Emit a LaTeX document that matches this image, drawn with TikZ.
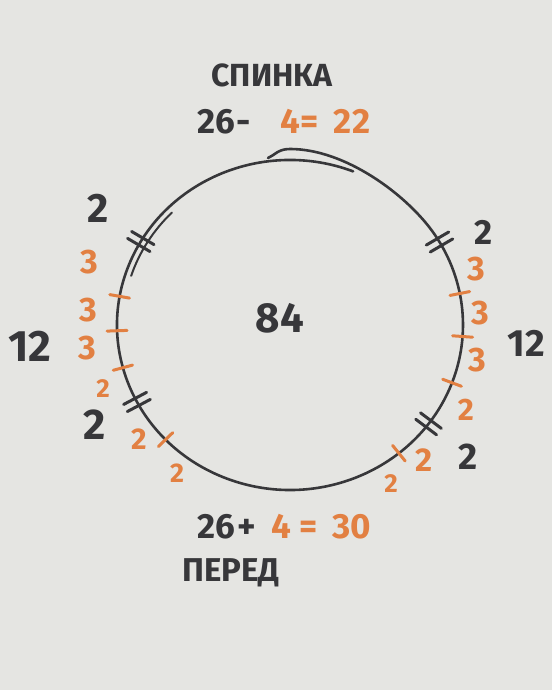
\documentclass[tikz,border=0pt]{standalone}
\usepackage{fontspec}
\setmainfont{Fira Sans}
\usetikzlibrary{calc}
\definecolor{ink}{RGB}{55,55,58}
\definecolor{marker}{RGB}{226,128,66}
\definecolor{paper}{RGB}{229,229,226}
\begin{document}
\begin{tikzpicture}[x=1pt,y=1pt,
  inkline/.style={draw=ink, line width=2.6pt, line cap=round, line join=round},
  tickO/.style={draw=marker, line width=3pt, line cap=round},
  tickB/.style={draw=ink, line width=3pt, line cap=round},
  blk/.style={text=ink, inner sep=0pt, font=\bfseries},
  org/.style={text=marker, inner sep=0pt, font=\bfseries},
  fs/.style={font=\fontsize{#1}{#1}\selectfont\bfseries}]
\fill[paper] (0,0) rectangle (552,690);
\useasboundingbox (0,0) rectangle (552,690);
\coordinate (C) at (290,365);
% main circle
\draw[inkline] (C) ++(68.6:173pt and 165pt) arc[start angle=68.6, end angle=395, x radius=173pt, y radius=165pt];
% upper stroke with hook
\draw[inkline] (268,532) .. controls (275,535) and (278,541) .. (290,541)
  .. controls (345,541) and (405,496) .. (431.7,459.6);
% inner extra stroke on upper left
\draw[inkline, line width=2pt] (C) ++(135:167pt and 159pt) arc[start angle=135, end angle=162, x radius=167pt, y radius=159pt];
% orange single ticks
\foreach \a in {170,182,195,224,11,-4,-20.5,-51}{
  \path (C) ++(\a:173pt and 165pt) coordinate (p);
  \draw[tickO, shift={(p)}, rotate=\a] (-10,0) -- (10,0);
}
% black double ticks
\foreach \a in {149.6,207.8,30.2,-36.8}{
  \path (C) ++(\a:173pt and 165pt) coordinate (q);
  \draw[tickB, shift={(q)}, rotate=\a] (-13,-4) -- (13,-4) (-13,4) -- (13,4);
}
% top text
\node[blk, fs=32] (back) at (272,615) {СПИНКА};
\node[blk, fs=35, anchor=base] (t26) at (216,556) {26};
\node[blk, fs=35, anchor=base] (tminus) at (244,556) {-};
\node[org, fs=35, anchor=base] (t4) at (290,556) {4};
\node[org, fs=35, anchor=base] (teq) at (310,556) {=};
\node[org, fs=35, anchor=base] (t22) at (352,556) {22};
% bottom text
\node[blk, fs=35, anchor=base] (b26) at (216,151) {26};
\node[blk, fs=35, anchor=base] (bplus) at (247,151) {+};
\node[org, fs=35, anchor=base] (b4) at (281,151) {4};
\node[org, fs=35, anchor=base] (beq) at (309,151) {=};
\node[org, fs=35, anchor=base] (b30) at (352,151) {30};
\node[blk, fs=33] (front) at (231,117) {ПЕРЕД};
% centre and sides
\node[blk, fs=42] (total) at (280,372) {84};
\node[blk, fs=44] (l12) at (30,344) {12};
\node[blk, fs=38] (r12) at (526,347) {12};
% black 2s
\node[blk, fs=41] (lb1) at (98,482) {2};
\node[blk, fs=43] (lb2) at (95,265) {2};
\node[blk, fs=35] (rb1) at (484,458) {2};
\node[blk, fs=37] (rb2) at (468,233) {2};
% orange left
\node[org, fs=34] (lo1) at (89,428) {3};
\node[org, fs=34] (lo2) at (88,380) {3};
\node[org, fs=34] (lo3) at (87,342) {3};
\node[org, fs=26] (lo4) at (103,301) {2};
\node[org, fs=30] (lo5) at (139,251) {2};
\node[org, fs=27] (lo6) at (177,217) {2};
% orange right
\node[org, fs=34] (ro1) at (476,421) {3};
\node[org, fs=34] (ro2) at (480,377) {3};
\node[org, fs=34] (ro3) at (477,330) {3};
\node[org, fs=31] (ro4) at (466,280) {2};
\node[org, fs=33] (ro5) at (424,230) {2};
\node[org, fs=26] (ro6) at (391,206) {2};
\end{tikzpicture}
\end{document}
